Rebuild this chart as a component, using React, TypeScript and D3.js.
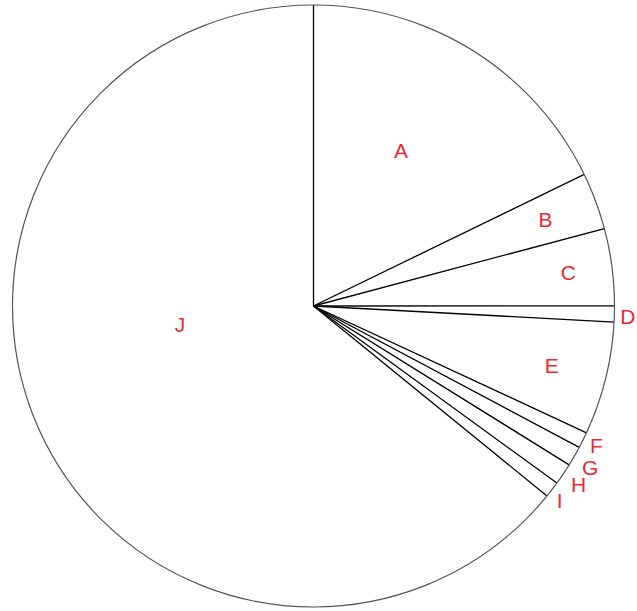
import React from "react";
import * as d3 from "d3";

const categories = ["A", "B", "C", "D", "E", "F", "G", "H", "I", "J"];
const values = [17.8, 3.06, 4.13, 0.86, 6.07, 0.86, 1.07, 1.16, 0.86, 64.13];
// label placement: angle offset from slice mid (deg) and radius factor
const labelAngleShift = [-2.7, 0, 0, 0.4, 0, -0.3, 0.3, 0, 0.8, 17.5];
const labelRadiusFactor = [0.593, 0.822, 0.854, 1.045, 0.816, 1.047, 1.064, 1.062, 1.043, 0.448];

const W = 637;
const H = 611;
const cx = 313.5;
const cy = 306;
const R = 301;

export default function App() {
  const pie = d3.pie<number>().sort(null).value((d) => d)(values);
  const arc = d3.arc<d3.PieArcDatum<number>>().innerRadius(0).outerRadius(R);
  const boundaries = pie.map((p) => p.startAngle);
  return (
    <svg
      width={W}
      height={H}
      style={{ position: "absolute", left: 0, top: 0, background: "#fff" }}
    >
      <g transform={`translate(${cx},${cy})`}>
        {pie.map((p, i) => (
          <path key={i} d={arc(p) || ""} fill="#fff" stroke="none" />
        ))}
        {boundaries.map((a, i) => (
          <line
            key={i}
            x1={0}
            y1={0}
            x2={R * Math.sin(a)}
            y2={-R * Math.cos(a)}
            stroke="#000"
            strokeWidth={1.3}
          />
        ))}
        <circle r={R} fill="none" stroke="#555" strokeWidth={1.2} />
        {pie.map((p, i) => {
          const mid = (p.startAngle + p.endAngle) / 2 + (labelAngleShift[i] * Math.PI) / 180;
          const r = R * labelRadiusFactor[i];
          return (
            <text
              key={i}
              x={r * Math.sin(mid)}
              y={-r * Math.cos(mid)}
              dy="0.36em"
              textAnchor="middle"
              fill="#ea2a33"
              fontSize={21}
              fontFamily="Arial, 'Liberation Sans', sans-serif"
            >
              {categories[i]}
            </text>
          );
        })}
      </g>
    </svg>
  );
}
